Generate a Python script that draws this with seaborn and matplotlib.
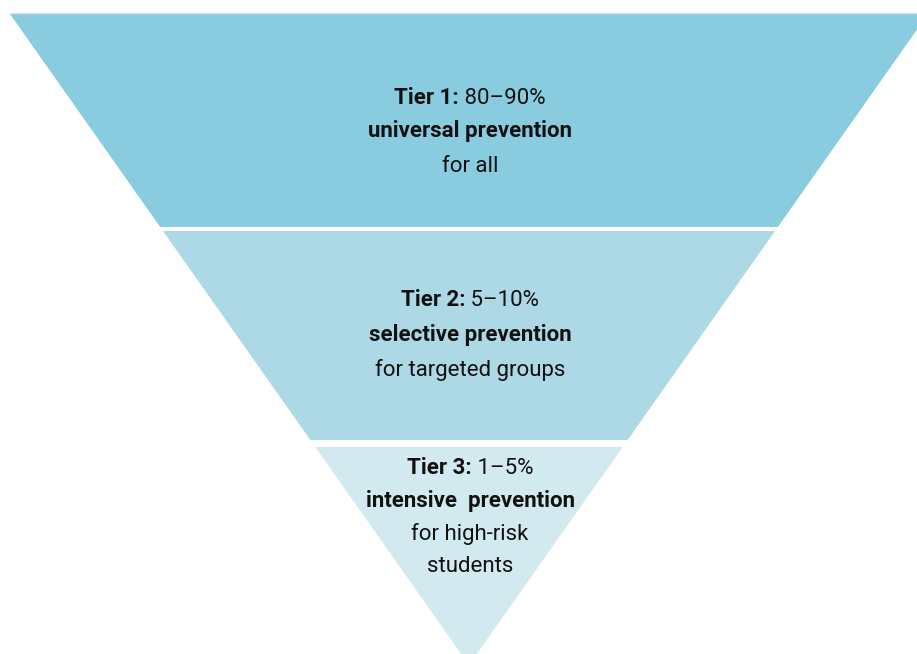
import matplotlib
matplotlib.use("Agg")
import matplotlib.pyplot as plt
from matplotlib import font_manager
import seaborn as sns

# Tier data (top to bottom)
tiers = ['Tier 1:', 'Tier 2:', 'Tier 3:']
shares = ['80\u201390%', '5\u201310%', '1\u20135%']
approaches = ['universal prevention', 'selective prevention', 'intensive  prevention']
audiences = [['for all'], ['for targeted groups'], ['for high-risk', 'students']]
tier_colors = ['#89cce0', '#add8e6', '#d3e9f0']

# Vertical extent of each band in pixel rows (top, bottom)
band_top = [14, 231, 447]
band_bottom = [227, 440, 665]

sns.set_theme(style='white')

available = {f.name for f in font_manager.fontManager.ttflist}
family = 'Roboto' if 'Roboto' in available else 'Open Sans'
plt.rcParams['font.family'] = [family, 'DejaVu Sans']

W, H = 917, 654
fig = plt.figure(figsize=(W / 100, H / 100), dpi=100)
ax = fig.add_axes([0, 0, 1, 1])
ax.set_xlim(0, W)
ax.set_ylim(H, 0)
ax.axis('off')

# inverted triangle: top from x=10 to x=928 at y=14, apex at (469, 665)
cx, top_y, apex_y, half_w = 469, 14, 665, 459


def half_width(y):
    return half_w * (apex_y - y) / (apex_y - top_y)


for t, b, c in zip(band_top, band_bottom, tier_colors):
    wt, wb = half_width(t), half_width(b)
    ax.fill([cx - wt, cx + wt, cx + wb, cx - wb], [t, t, b, b], color=c, lw=0)

ax.plot([cx - half_w, cx + half_w], [13, 13], color='#cfe3ea', lw=1)

fs = 16
renderer = fig.canvas.get_renderer()


def mixed_line(x, y, bold, regular):
    t1 = ax.text(0, y, bold, fontsize=fs, fontweight='bold', va='center', ha='left', color='#111111')
    t2 = ax.text(0, y, ' ' + regular, fontsize=fs, va='center', ha='left', color='#111111')
    w1 = t1.get_window_extent(renderer).width
    w2 = t2.get_window_extent(renderer).width
    start = x - (w1 + w2) / 2
    t1.set_x(start)
    t2.set_x(start + w1)


text_rows = [[98, 131, 166], [300, 335, 370], [468, 501, 534, 566]]
text_x = 470
for i in range(len(tiers)):
    rows = text_rows[i]
    mixed_line(text_x, rows[0], tiers[i], shares[i])
    ax.text(text_x, rows[1], approaches[i], fontsize=fs, fontweight='bold',
            ha='center', va='center', color='#111111')
    for j, line in enumerate(audiences[i]):
        ax.text(text_x, rows[2 + j], line, fontsize=fs, ha='center', va='center', color='#111111')

fig.savefig('out.png', dpi=100)
